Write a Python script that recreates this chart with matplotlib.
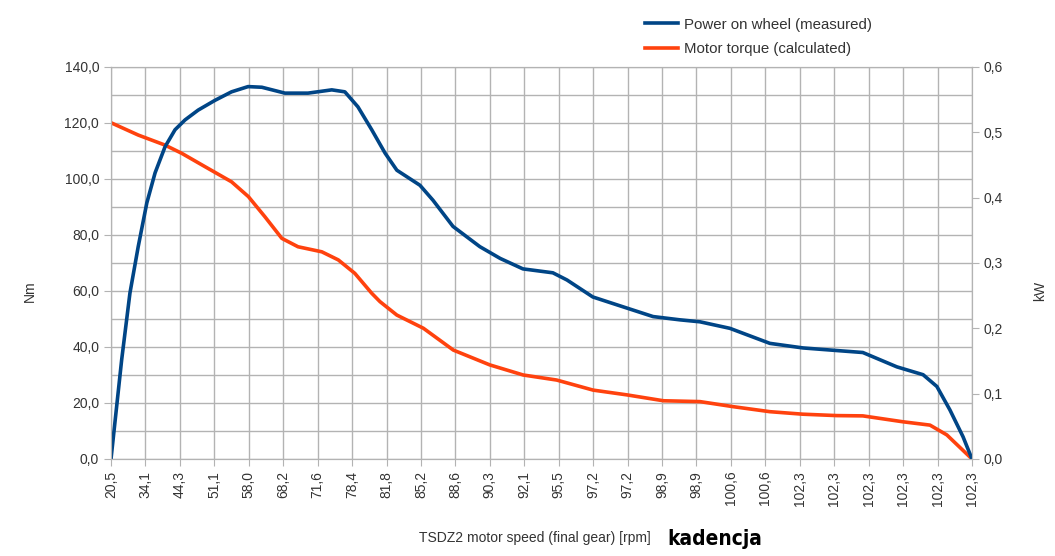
import matplotlib
matplotlib.use("Agg")
import matplotlib.pyplot as plt
from matplotlib.ticker import MultipleLocator, FuncFormatter
from matplotlib import font_manager

plt.rcParams['font.family'] = ['Liberation Sans', 'DejaVu Sans']

categories = ["20,5", "34,1", "44,3", "51,1", "58,0", "68,2", "71,6", "78,4", "81,8",
              "85,2", "88,6", "90,3", "92,1", "95,5", "97,2", "97,2", "98,9", "98,9",
              "100,6", "100,6", "102,3", "102,3", "102,3", "102,3", "102,3", "102,3"]

# positions measured in category units (0 = first label, 25 = last label)
power_pos = [0.0, 0.31, 0.55, 0.79, 1.04, 1.28, 1.57, 1.86, 2.15, 2.53, 3.02, 3.50, 3.98,
             4.38, 5.05, 5.72, 6.41, 6.79, 7.17, 7.57, 7.96, 8.30, 8.97, 9.35, 9.93, 10.71,
             11.30, 11.96, 12.83, 13.24, 13.99, 14.98, 15.74, 16.52, 17.10, 17.97, 19.13,
             20.09, 21.08, 21.83, 22.82, 23.58, 23.98, 24.36, 24.74, 25.0]
power_kw = [0.0, 0.152, 0.254, 0.325, 0.392, 0.438, 0.478, 0.504, 0.519, 0.534, 0.549, 0.562,
            0.570, 0.569, 0.560, 0.560, 0.565, 0.562, 0.539, 0.504, 0.468, 0.442, 0.419,
            0.396, 0.356, 0.325, 0.307, 0.291, 0.285, 0.274, 0.248, 0.231, 0.218, 0.213,
            0.210, 0.200, 0.177, 0.170, 0.166, 0.163, 0.141, 0.129, 0.111, 0.075, 0.034, 0.0]

torque_pos = [0.0, 0.79, 1.57, 2.05, 2.73, 3.50, 3.99, 4.47, 4.96, 5.43, 6.12, 6.60, 7.08,
              7.57, 7.81, 8.30, 9.07, 9.94, 11.00, 11.97, 12.94, 14.00, 14.98, 16.04, 17.10,
              18.06, 19.13, 20.09, 21.08, 21.83, 22.99, 23.78, 24.27, 25.0]
torque_nm = [120.1, 115.7, 112.1, 109.2, 104.4, 99.0, 93.7, 86.5, 78.8, 75.8, 74.0, 71.1, 66.3,
             59.2, 56.2, 51.4, 46.7, 38.9, 33.6, 30.0, 28.2, 24.6, 22.9, 20.8, 20.5, 18.7,
             16.9, 16.0, 15.5, 15.4, 13.3, 12.1, 8.6, 0.0]

BLUE = "#004586"
ORANGE = "#ff420e"
GRID = "#b3b3b3"
TXT = "#333333"

fig = plt.figure(figsize=(10.55, 5.56), dpi=100)
ax = fig.add_axes([111/1055, 1-459/556, (972-111)/1055, (459-67)/556])
ax2 = ax.twinx()

n = len(categories)
ax.set_xlim(0, n-1)
ax.set_ylim(0, 140)
ax2.set_ylim(0, 0.6)

ax.set_xticks(range(n))
ax.set_xticklabels(categories, rotation=90, fontsize=10, color=TXT)
ax.yaxis.set_major_locator(MultipleLocator(20))
ax.yaxis.set_minor_locator(MultipleLocator(10))
ax.yaxis.set_major_formatter(FuncFormatter(lambda v, p: f"{v:.1f}".replace('.', ',')))
ax2.yaxis.set_major_locator(MultipleLocator(0.1))
ax2.yaxis.set_major_formatter(FuncFormatter(lambda v, p: f"{v:.1f}".replace('.', ',')))

ax.grid(True, which='major', color=GRID, lw=1)
ax.grid(True, which='minor', axis='y', color=GRID, lw=1)
ax.set_axisbelow(True)

for a in (ax, ax2):
    for s in a.spines.values():
        s.set_color(GRID)
    a.tick_params(colors=GRID, labelcolor=TXT, labelsize=10, length=5)
ax.tick_params(axis='y', which='minor', length=0)

l1, = ax2.plot(power_pos, power_kw, color=BLUE, lw=2.6, label="Power on wheel (measured)")
l2, = ax.plot(torque_pos, torque_nm, color=ORANGE, lw=2.6, label="Motor torque (calculated)")
ax2.set_zorder(ax.get_zorder() + 1)
ax2.patch.set_visible(False)

fig.text(30/1055, 1-291/556, "Nm", rotation=90, ha='center', va='center', fontsize=10, color=TXT)
fig.text(1040/1055, 1-291/556, "kW", rotation=90, ha='center', va='center', fontsize=10, color=TXT)
fig.text(535/1055, 1-538/556, "TSDZ2 motor speed (final gear) [rpm]", ha='center', va='center',
         fontsize=10, color=TXT)

names = {f.name for f in font_manager.fontManager.ttflist}
kfam = ['Liberation Sans Narrow'] if 'Liberation Sans Narrow' in names else ['DejaVu Sans']
ksize = 19 if kfam[0] == 'Liberation Sans Narrow' else 15
fig.text(667/1055, 1-539/556, "kadencja", ha='left', va='center', fontsize=ksize,
         fontweight='bold', fontstretch='condensed', color='black', family=kfam + ['DejaVu Sans'])

fig.legend(handles=[l1, l2], loc='upper left', bbox_to_anchor=(631/1055, 1-4/556),
           frameon=False, fontsize=10.8, handlelength=2.2, handletextpad=0.45,
           labelspacing=0.72, labelcolor=TXT)

fig.savefig("out.png", dpi=100)
